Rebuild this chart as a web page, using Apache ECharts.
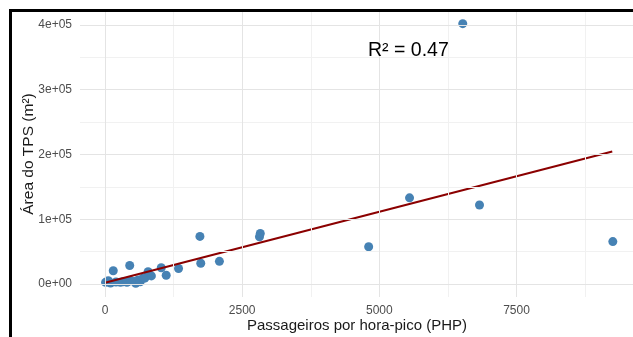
<!DOCTYPE html>
<html>
<head>
<meta charset="utf-8">
<script src="https://cdn.jsdelivr.net/npm/echarts@6/dist/echarts.min.js"></script>
<style>
html,body{margin:0;padding:0;background:#fff;}
#chart{width:633px;height:337px;}
</style>
</head>
<body>
<div id="chart"></div>
<script>
// Data
const phpValues = [10, 60, 100, 150, 200, 280, 330, 400, 450, 470, 540, 560, 600, 640, 690, 725, 785, 845, 1025, 1115, 1340, 1730, 1745, 2085, 2815, 2830, 4805, 5550, 6520, 6825, 9255];
const areaValues = [2500, 5000, 1500, 20500, 3000, 2500, 3500, 2500, 28500, 5000, 4000, 1000, 6000, 3500, 9000, 9000, 19000, 12500, 25000, 13500, 24000, 73500, 32000, 35000, 73000, 78000, 57500, 133000, 402000, 122000, 65500];
const fitX = [0, 9245];
const fitY = [2000, 204500];
const xTickValues = [0, 2500, 5000, 7500];
const xMinorValues = [1250, 3750, 6250, 8750];
const yTickValues = [0, 100000, 200000, 300000, 400000];
const yMinorValues = [50000, 150000, 250000, 350000];
const r2Text = 'R² = 0.47';
const xTitle = 'Passageiros por hora-pico (PHP)';
const yTitle = 'Área do TPS (m²)';

const FONT = '"Liberation Sans", Arial, sans-serif';
const points = phpValues.map((x, i) => [x, areaValues[i]]);
const fitLine = fitX.map((x, i) => [x, fitY[i]]);

function sci(v) {
  if (v === 0) return '0e+00';
  const e = Math.floor(Math.log10(Math.abs(v)));
  const m = v / Math.pow(10, e);
  return (Math.round(m)) + 'e+' + String(e).padStart(2, '0');
}

const gridLines = [];
xMinorValues.forEach(v => gridLines.push({xAxis: v, lineStyle: {color: '#f1f1f1', width: 1, type: 'solid'}}));
yMinorValues.forEach(v => gridLines.push({yAxis: v, lineStyle: {color: '#f1f1f1', width: 1, type: 'solid'}}));
xTickValues.forEach(v => gridLines.push({xAxis: v, lineStyle: {color: '#e4e4e4', width: 1, type: 'solid'}}));
yTickValues.forEach(v => gridLines.push({yAxis: v, lineStyle: {color: '#e4e4e4', width: 1, type: 'solid'}}));

const chart = echarts.init(document.getElementById('chart'), null, {renderer: 'canvas'});
chart.setOption({
  animation: false,
  backgroundColor: '#fff',
  grid: {left: 80, top: 11, width: 554, height: 286, containLabel: false, outerBoundsMode: 'none'},
  xAxis: {
    type: 'value', min: -456, max: 9641,
    splitLine: {show: false}, axisLine: {show: false}, axisTick: {show: false},
    axisLabel: {customValues: xTickValues, color: '#4d4d4d', fontSize: 12, fontFamily: FONT, margin: 8, formatter: v => String(v)},
    name: xTitle, nameLocation: 'middle', nameGap: 21, nameMoveOverlap: false,
    nameTextStyle: {color: '#1a1a1a', fontSize: 15, fontFamily: FONT}
  },
  yAxis: {
    type: 'value', min: -20100, max: 421600,
    splitLine: {show: false}, axisLine: {show: false}, axisTick: {show: false},
    axisLabel: {customValues: yTickValues, color: '#4d4d4d', fontSize: 12, fontFamily: FONT, margin: 8, formatter: v => sci(v)},
    name: yTitle, nameLocation: 'middle', nameGap: 43, nameRotate: 90, nameMoveOverlap: false,
    nameTextStyle: {color: '#1a1a1a', fontSize: 15.5, fontFamily: FONT}
  },
  series: [
    {
      type: 'line', data: [], silent: true,
      markLine: {silent: true, symbol: ['none', 'none'], label: {show: false}, animation: false, data: gridLines}
    },
    {
      type: 'scatter', data: points, symbolSize: 9, z: 3,
      itemStyle: {color: '#4682b4', opacity: 1}
    },
    {
      type: 'line', data: fitLine, symbol: 'none', z: 4,
      lineStyle: {color: '#8b0000', width: 2}
    }
  ],
  graphic: [
    {type: 'text', z: 10, style: {text: r2Text, x: 368, y: 51, font: '19.5px ' + FONT, fill: '#000', textAlign: 'left', textVerticalAlign: 'middle', verticalAlign: 'middle'}},
    {type: 'rect', z: 20, shape: {x: 10.5, y: 10.5, width: 1000, height: 1000}, style: {fill: 'none', stroke: '#000', lineWidth: 3}}
  ]
});
</script>
</body>
</html>
